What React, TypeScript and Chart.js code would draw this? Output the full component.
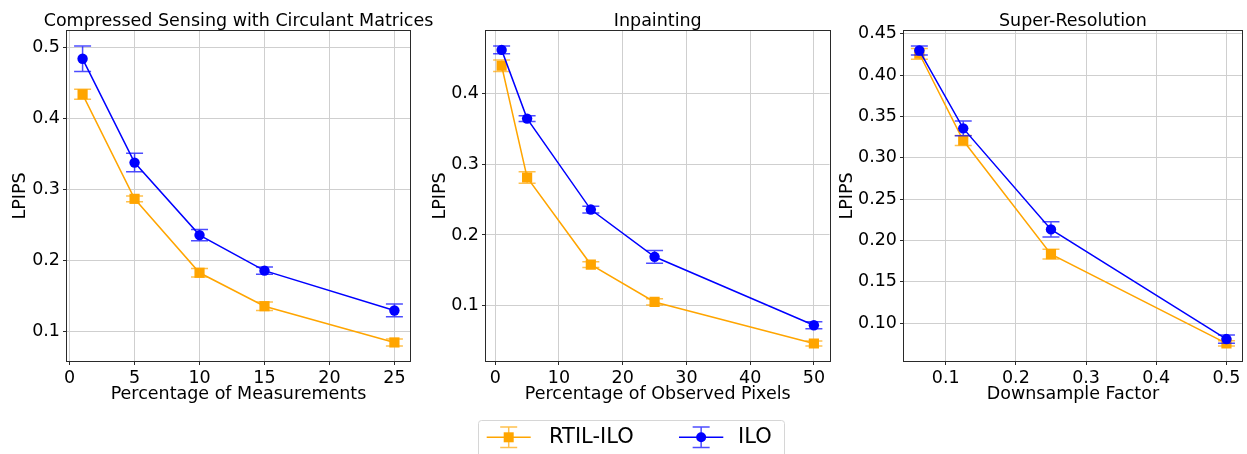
import React, { useEffect, useRef } from "react";
import { Chart, registerables } from "chart.js";

Chart.register(...registerables);

// ---------------- data ----------------
const CS_X = [1, 5, 10, 15, 25];
const CS_RTIL = [0.434, 0.287, 0.183, 0.136, 0.085];
const CS_RTIL_ERR = [0.007, 0.004, 0.006, 0.006, 0.005];
const CS_ILO = [0.484, 0.338, 0.236, 0.186, 0.130];
const CS_ILO_ERR = [0.018, 0.013, 0.008, 0.005, 0.009];
const CS_XTICKS = [0, 5, 10, 15, 20, 25];
const CS_YTICKS = [0.1, 0.2, 0.3, 0.4, 0.5];

const INP_X = [1, 5, 15, 25, 50];
const INP_RTIL = [0.44, 0.2815, 0.158, 0.105, 0.046];
const INP_RTIL_ERR = [0.008, 0.008, 0.004, 0.0045, 0.0035];
const INP_ILO = [0.4625, 0.365, 0.236, 0.169, 0.072];
const INP_ILO_ERR = [0.0055, 0.004, 0.0047, 0.009, 0.005];
const INP_XTICKS = [0, 10, 20, 30, 40, 50];
const INP_YTICKS = [0.1, 0.2, 0.3, 0.4];

const SR_X = [0.0625, 0.125, 0.25, 0.5];
const SR_RTIL = [0.426, 0.321, 0.1835, 0.0755];
const SR_RTIL_ERR = [0.0065, 0.006, 0.006, 0.0032];
const SR_ILO = [0.4299, 0.3357, 0.2134, 0.0807];
const SR_ILO_ERR = [0.0055, 0.009, 0.0093, 0.005];
const SR_XTICKS = [0.1, 0.2, 0.3, 0.4, 0.5];
const SR_YTICKS = [0.1, 0.15, 0.2, 0.25, 0.3, 0.35, 0.4, 0.45];

const SERIES_NAMES = ["RTIL-ILO", "ILO"];
const TITLES = ["Compressed Sensing with Circulant Matrices", "Inpainting", "Super-Resolution"];
const X_LABELS = ["Percentage of Measurements", "Percentage of Observed Pixels", "Downsample Factor"];
const Y_LABEL = "LPIPS";

// ---------------- styles ----------------
const FONT = "'DejaVu Sans', sans-serif";
const ORANGE = "#FFA500";
const BLUE = "#0000FF";
const ORANGE_ERR = "rgba(255,165,0,0.7)";
const BLUE_ERR = "rgba(0,0,255,0.7)";
const GRID = "#cfcfcf";
const SPINE = "#2a2a2a";
const FS = 17.5;
const TOP = 31;
const BOTTOM_PAD = 48;
const XAXIS_H = 45;
const H = 454;

type PanelDef = {
  title: string;
  xLabel: string;
  x: number[];
  rtil: number[];
  rtilErr: number[];
  ilo: number[];
  iloErr: number[];
  xTicks: number[];
  yTicks: number[];
  xDec: number;
  yDec: number;
  left: number;
  width: number;
  plotLeft: number;
  rightPad: number;
  yTitlePad: number;
  legend: boolean;
};

const PANELS: PanelDef[] = [
  {
    title: TITLES[0], xLabel: X_LABELS[0], x: CS_X, rtil: CS_RTIL, rtilErr: CS_RTIL_ERR, ilo: CS_ILO, iloErr: CS_ILO_ERR,
    xTicks: CS_XTICKS, yTicks: CS_YTICKS, xDec: 0, yDec: 1,
    left: 0, width: 450, plotLeft: 67, rightPad: 40, yTitlePad: 9.5, legend: false,
  },
  {
    title: TITLES[1], xLabel: X_LABELS[1], x: INP_X, rtil: INP_RTIL, rtilErr: INP_RTIL_ERR, ilo: INP_ILO, iloErr: INP_ILO_ERR,
    xTicks: INP_XTICKS, yTicks: INP_YTICKS, xDec: 0, yDec: 1,
    left: 420, width: 420, plotLeft: 486, rightPad: 10.5, yTitlePad: 9.5, legend: true,
  },
  {
    title: TITLES[2], xLabel: X_LABELS[2], x: SR_X, rtil: SR_RTIL, rtilErr: SR_RTIL_ERR, ilo: SR_ILO, iloErr: SR_ILO_ERR,
    xTicks: SR_XTICKS, yTicks: SR_YTICKS, xDec: 1, yDec: 2,
    left: 830, width: 419, plotLeft: 904, rightPad: 1, yTitlePad: 6.5, legend: false,
  },
];

function withMargin(lo: number, hi: number) {
  const m = (hi - lo) * 0.05;
  return [lo - m, hi + m];
}

function drawErrorBar(ctx: CanvasRenderingContext2D, x: number, yTop: number, yBot: number, color: string, cap: number) {
  ctx.save();
  ctx.strokeStyle = color;
  ctx.lineWidth = 1.5;
  ctx.beginPath();
  ctx.moveTo(x, yTop);
  ctx.lineTo(x, yBot);
  ctx.moveTo(x - cap, yTop);
  ctx.lineTo(x + cap, yTop);
  ctx.moveTo(x - cap, yBot);
  ctx.lineTo(x + cap, yBot);
  ctx.stroke();
  ctx.restore();
}

function PanelChart({ def }: { def: PanelDef }) {
  const ref = useRef<HTMLCanvasElement | null>(null);
  useEffect(() => {
    const canvas = ref.current;
    if (!canvas) return;
    const allX = def.x;
    const lows = [...def.rtil.map((v, i) => v - def.rtilErr[i]), ...def.ilo.map((v, i) => v - def.iloErr[i])];
    const highs = [...def.rtil.map((v, i) => v + def.rtilErr[i]), ...def.ilo.map((v, i) => v + def.iloErr[i])];
    const [xMin, xMax] = withMargin(Math.min(...allX), Math.max(...allX));
    const [yMin, yMax] = withMargin(Math.min(...lows), Math.max(...highs));

    const decor = {
      id: "decor",
      afterDatasetDraw(chart: any, args: any) {
        const ds: any = chart.data.datasets[args.index];
        const meta = chart.getDatasetMeta(args.index);
        const ctx = chart.ctx;
        const ys = chart.scales.y;
        ctx.save();
        const a = chart.chartArea;
        ctx.beginPath();
        ctx.rect(a.left, a.top, a.right - a.left, a.bottom - a.top);
        ctx.clip();
        meta.data.forEach((pt: any, i: number) => {
          const v = ds.data[i].y;
          const e = ds.errors[i];
          drawErrorBar(ctx, pt.x, ys.getPixelForValue(v + e), ys.getPixelForValue(v - e), ds.errColor, 8.5);
        });
        ctx.restore();
      },
      afterDraw(chart: any) {
        const ctx = chart.ctx;
        const a = chart.chartArea;
        ctx.save();
        ctx.strokeStyle = SPINE;
        ctx.lineWidth = 1;
        ctx.strokeRect(Math.round(a.left) - 0.5, Math.round(a.top) - 0.5, Math.round(a.right - a.left) + 1, Math.round(a.bottom - a.top) + 1);
        // title
        ctx.fillStyle = "#000";
        ctx.font = `${FS}px ${FONT}`;
        ctx.textAlign = "center";
        ctx.textBaseline = "alphabetic";
        ctx.fillText(def.title, (a.left + a.right) / 2, 26);
        ctx.restore();

        if (def.legend) {
          const off = def.left;
          ctx.save();
          const bx = 478 - off, by = 420, bw = 306, bh = 60, r = 3;
          ctx.fillStyle = "rgba(255,255,255,0.8)";
          ctx.strokeStyle = "#d6d6d6";
          ctx.lineWidth = 1;
          ctx.beginPath();
          ctx.roundRect(bx + 0.5, by + 0.5, bw, bh, r);
          ctx.fill();
          ctx.stroke();
          const items = [
            { name: SERIES_NAMES[0], color: ORANGE, err: ORANGE_ERR, x0: 486.7 - off, x1: 530.7 - off, tx: 549 - off, shape: "rect" },
            { name: SERIES_NAMES[1], color: BLUE, err: BLUE_ERR, x0: 679 - off, x1: 723.3 - off, tx: 738 - off, shape: "circle" },
          ];
          const cy = 437.3;
          items.forEach((it) => {
            const cx = (it.x0 + it.x1) / 2;
            ctx.strokeStyle = it.color;
            ctx.lineWidth = 1.5;
            ctx.beginPath();
            ctx.moveTo(it.x0, cy);
            ctx.lineTo(it.x1, cy);
            ctx.stroke();
            drawErrorBar(ctx, cx, cy - 10.3, cy + 10.3, it.err, 8.5);
            ctx.fillStyle = it.color;
            if (it.shape === "rect") {
              ctx.fillRect(cx - 5, cy - 5, 10, 10);
            } else {
              ctx.beginPath();
              ctx.arc(cx, cy, 5, 0, Math.PI * 2);
              ctx.fill();
            }
            ctx.fillStyle = "#000";
            ctx.font = `21px ${FONT}`;
            ctx.textAlign = "left";
            ctx.textBaseline = "middle";
            ctx.fillText(it.name, it.tx, cy);
          });
          ctx.restore();
        }
      },
    };

    const tickFont = { family: FONT, size: FS };
    const chart = new Chart(canvas, {
      type: "scatter",
      data: {
        datasets: [
          {
            label: SERIES_NAMES[0],
            data: def.x.map((x, i) => ({ x, y: def.rtil[i] })),
            errors: def.rtilErr,
            errColor: ORANGE_ERR,
            showLine: true,
            borderColor: ORANGE,
            backgroundColor: ORANGE,
            borderWidth: 1.5,
            pointStyle: "rect",
            pointRadius: 7.2,
            pointBorderWidth: 0,
            order: 2,
          } as any,
          {
            label: SERIES_NAMES[1],
            data: def.x.map((x, i) => ({ x, y: def.ilo[i] })),
            errors: def.iloErr,
            errColor: BLUE_ERR,
            showLine: true,
            borderColor: BLUE,
            backgroundColor: BLUE,
            borderWidth: 1.5,
            pointStyle: "circle",
            pointRadius: 5.2,
            pointBorderWidth: 0,
            order: 1,
          } as any,
        ],
      },
      options: {
        animation: false,
        responsive: false,
        maintainAspectRatio: false,
        devicePixelRatio: 1,
        layout: { padding: { top: TOP, bottom: BOTTOM_PAD, left: 0, right: def.rightPad } },
        plugins: { legend: { display: false }, tooltip: { enabled: false }, title: { display: false } },
        scales: {
          x: {
            type: "linear",
            min: xMin,
            max: xMax,
            afterBuildTicks: (s: any) => { s.ticks = def.xTicks.map((v) => ({ value: v })); },
            afterFit: (s: any) => { s.height = XAXIS_H; s.paddingLeft = 0; s.paddingRight = 0; },
            ticks: {
              autoSkip: false,
              maxRotation: 0,
              padding: 3,
              color: "#000",
              font: tickFont,
              callback: (v: any) => Number(v).toFixed(def.xDec),
            },
            grid: { color: GRID, lineWidth: 1, drawTicks: true, tickLength: 4, tickColor: SPINE },
            border: { display: false },
            title: { display: true, text: def.xLabel, color: "#000", font: { family: FONT, size: FS }, padding: { top: 0, bottom: 1.5 } },
          },
          y: {
            type: "linear",
            min: yMin,
            max: yMax,
            afterBuildTicks: (s: any) => { s.ticks = def.yTicks.map((v) => ({ value: v })); },
            afterFit: (s: any) => { s.width = def.plotLeft - def.left; s.paddingTop = 0; s.paddingBottom = 0; },
            ticks: {
              autoSkip: false,
              padding: 3,
              color: "#000",
              font: tickFont,
              callback: (v: any) => Number(v).toFixed(def.yDec),
            },
            grid: { color: GRID, lineWidth: 1, drawTicks: true, tickLength: 4, tickColor: SPINE },
            border: { display: false },
            title: { display: true, text: Y_LABEL, color: "#000", font: { family: FONT, size: FS }, padding: { top: def.yTitlePad, bottom: 0 } },
          },
        },
      } as any,
      plugins: [decor],
    });
    return () => chart.destroy();
  }, [def]);

  return (
    <canvas
      ref={ref}
      width={def.width}
      height={H}
      style={{ position: "absolute", left: def.left, top: 0, width: def.width, height: H }}
    />
  );
}

export default function App() {
  useEffect(() => {
    document.body.style.margin = "0";
  }, []);
  return (
    <div style={{ position: "fixed", left: 0, top: 0, width: 1247, height: H, overflow: "hidden", background: "#fff" }}>
      {PANELS.map((p, i) => (
        <PanelChart key={i} def={p} />
      ))}
    </div>
  );
}
